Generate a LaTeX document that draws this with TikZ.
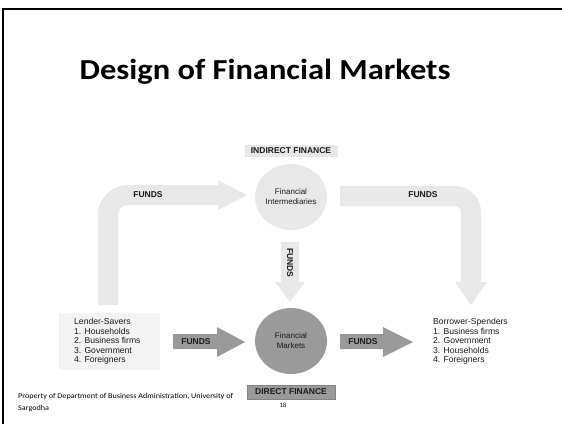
\documentclass[tikz,border=0pt]{standalone}
\usepackage{fontspec}
\setmainfont{Carlito}
\newfontfamily\titlefont[FakeStretch=1.12]{Carlito}
\newfontfamily\footfont[FakeStretch=1.1]{Carlito}
\newfontfamily\diag{Liberation Sans}
\usetikzlibrary{shapes.geometric}
\definecolor{lightfill}{HTML}{E8E8E8}
\definecolor{boxfill}{HTML}{F3F3F3}
\definecolor{darkfill}{HTML}{9A9A9A}
\definecolor{inkgray}{HTML}{1A1A1A}
\tikzset{
  lightarrow/.style={fill=lightfill},
  darkarrow/.style={fill=darkfill},
  lbl/.style={font=\diag\bfseries\fontsize{8.5}{10}\selectfont, text=inkgray, inner sep=0pt},
  listtxt/.style={font=\diag\fontsize{8.6}{9.6}\selectfont, text=inkgray, align=left, anchor=north west, inner sep=0pt},
  circtxt/.style={font=\diag\fontsize{8}{9.8}\selectfont, text=inkgray, align=center, inner sep=0pt},
  institution/.style={ellipse, minimum width=72pt, minimum height=66pt, inner sep=0pt},
}
\begin{document}
\begin{tikzpicture}[x=1pt,y=-1pt]
\useasboundingbox (0,0) rectangle (562,424);
% slide frame
\draw[line width=2pt] (3,424) -- (3,9) -- (562,9);
% title
\node[font=\titlefont\bfseries\fontsize{29}{32}\selectfont] (title) at (265,72) {Design of Financial Markets};

% lender box
\fill[boxfill] (59,313) rectangle (160,370);
\node[listtxt] (lenders) at (74,318) {Lender-Savers\\1. Households\\2. Business firms\\3. Government\\4. Foreigners};
\node[listtxt] (borrowers) at (433,318) {Borrower-Spenders\\1. Business firms\\2. Government\\3. Households\\4. Foreigners};

% institutions
\node[institution, fill=lightfill] (fi) at (291,197) {};
\node[circtxt] at (fi) {Financial\\Intermediaries};
\node[institution, fill=darkfill] (fm) at (291,341) {};
\node[circtxt] at (fm) {Financial\\Markets};

% labels of the two routes
\node[lbl, fill=lightfill, minimum width=93pt, minimum height=12pt] (indirect) at (291,151) {INDIRECT FINANCE};
\node[lbl, fill=darkfill, draw=darkfill!85!black, line width=0.4pt, minimum width=88pt, minimum height=14pt] (direct) at (291,392) {DIRECT FINANCE};
\node[font=\fontsize{6.5}{7}\selectfont, inner sep=0pt] (page) at (283,405) {18};

% indirect route: lenders -> intermediaries
\fill[lightarrow] (98,305) -- (98,215) arc[start angle=180,end angle=270,radius=30]
  -- (218,185) -- (218,180) -- (247,195) -- (218,210) -- (218,205) -- (128,205)
  arc[start angle=270,end angle=180,radius=10] -- (118,305) -- cycle;
\node[lbl] (f1) at (148,195) {FUNDS};

% intermediaries -> borrowers
\fill[lightarrow] (340,186) -- (455,186) arc[start angle=270,end angle=360,radius=26]
  -- (481,282) -- (487,282) -- (471,305) -- (455,282) -- (461,282) -- (461,212)
  arc[start angle=360,end angle=270,radius=6] -- (340,206) -- cycle;
\node[lbl] (f2) at (423,195) {FUNDS};

% intermediaries -> markets
\fill[lightarrow] (281,242) -- (299,242) -- (299,282) -- (305,282) -- (290,302)
  -- (275,282) -- (281,282) -- cycle;
\node[lbl, rotate=-90] (f3) at (290,263) {FUNDS};

% direct route
\fill[darkarrow] (173,334) -- (217,334) -- (217,327) -- (245,342) -- (217,357)
  -- (217,349) -- (173,349) -- cycle;
\node[lbl] (f4) at (196,341.5) {FUNDS};
\fill[darkarrow] (340,334) -- (383,334) -- (383,327) -- (413,342) -- (383,357)
  -- (383,349) -- (340,349) -- cycle;
\node[lbl] (f5) at (363,341.5) {FUNDS};

% footer
\node[font=\footfont\fontsize{7.4}{12.5}\selectfont, align=left, anchor=north west, inner sep=0pt] (footer) at (18,393)
  {Property of Department of Business Administration, University of\\Sargodha};
\end{tikzpicture}
\end{document}
